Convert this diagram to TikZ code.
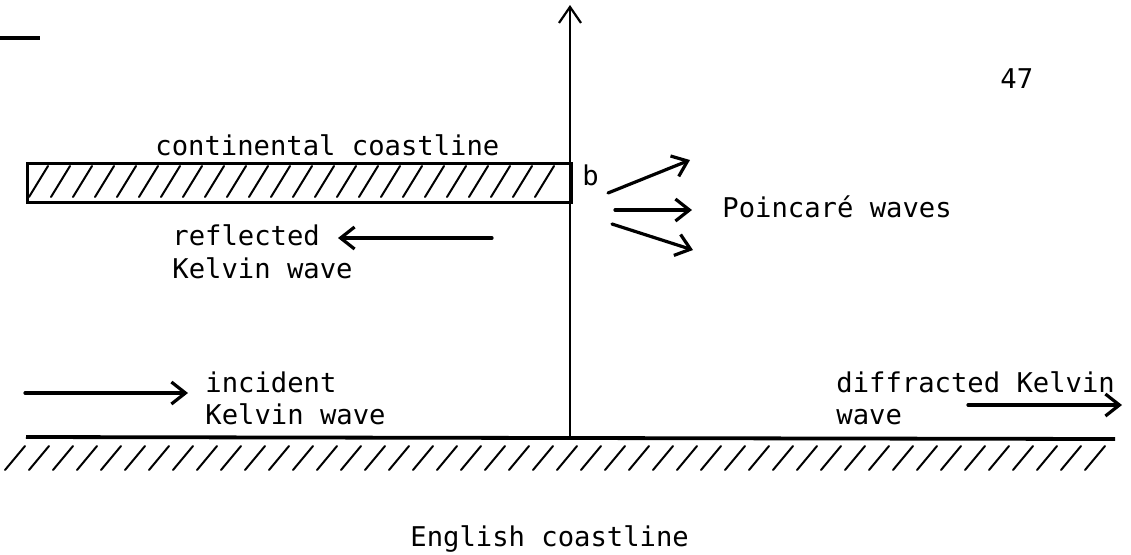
\documentclass[tikz,border=0pt]{standalone}
\usepackage{fontspec}
\setmonofont{DejaVu Sans Mono}
\usetikzlibrary{arrows.meta}
\tikzset{
  lbl/.style={font=\ttfamily\fontsize{13.6}{16}\selectfont, inner sep=0pt, anchor=base west},
  thinline/.style={line width=1.1pt},
  coast/.style={line width=1.9pt},
  hatch/.style={line width=1pt, line cap=round},
  wavearrow/.style={line width=1.6pt, line cap=round, -{Straight Barb[length=7pt,width=11pt,line width=1.6pt]}},
}
\begin{document}
\begin{tikzpicture}[x=0.5pt,y=-0.5pt]
\useasboundingbox (0,0) rectangle (1131,554);
% top-left dash
\draw[coast] (0,38) -- (40,38);
% vertical axis
\coordinate (axb) at (570,437);
\coordinate (axt) at (570,5);
\draw[thinline, -{Straight Barb[length=8pt,width=11pt,line width=1.1pt]}] (axb) -- (axt);
% continental coastline rectangle
\node[draw, line width=1.4pt, minimum width=272pt, minimum height=19.5pt, inner sep=0pt, anchor=north west] (cont) at (26,162) {};
\foreach \x in {29,51,...,550} {
  \draw[hatch] (\x,197) -- (\x+19,166);
}
\node[lbl] (conttxt) at (155,155) {continental coastline};
% b and Poincare waves
\node[lbl] (b) at (582,185) {b};
\node[lbl] (poin) at (722,217) {Poincaré waves};
\coordinate (p1s) at (608,193); \coordinate (p1e) at (690,160);
\coordinate (p2s) at (615,210); \coordinate (p2e) at (692,210);
\coordinate (p3s) at (612,224); \coordinate (p3e) at (693,250);
\draw[wavearrow] (p1s) -- (p1e);
\draw[wavearrow] (p2s) -- (p2e);
\draw[wavearrow] (p3s) -- (p3e);
% reflected
\node[lbl] (refl) at (172,245) {reflected};
\node[lbl] (refl2) at (172,278) {Kelvin wave};
\coordinate (r1) at (492,238); \coordinate (r2) at (338,238);
\draw[wavearrow] (r1) -- (r2);
% incident
\node[lbl] (inc) at (205,392) {incident};
\node[lbl] (inc2) at (205,424) {Kelvin wave};
\coordinate (i1) at (25,393); \coordinate (i2) at (188,393);
\draw[wavearrow] (i1) -- (i2);
% diffracted
\node[lbl] (dif) at (836,392) {diffracted Kelvin};
\node[lbl] (dif2) at (836,424) {wave};
\coordinate (d1) at (968,405); \coordinate (d2) at (1122,405);
\draw[wavearrow] (d1) -- (d2);
% English coastline
\coordinate (c1) at (26,437); \coordinate (c2) at (1115,439);
\draw[coast] (c1) -- (c2);
\foreach \x in {5,29,...,1100} {
  \draw[hatch] (\x,470) -- (\x+20,446);
}
\node[lbl] (eng) at (410,546) {English coastline};
% page number
\node[lbl] (pg) at (1000,88) {47};
\end{tikzpicture}
\end{document}
